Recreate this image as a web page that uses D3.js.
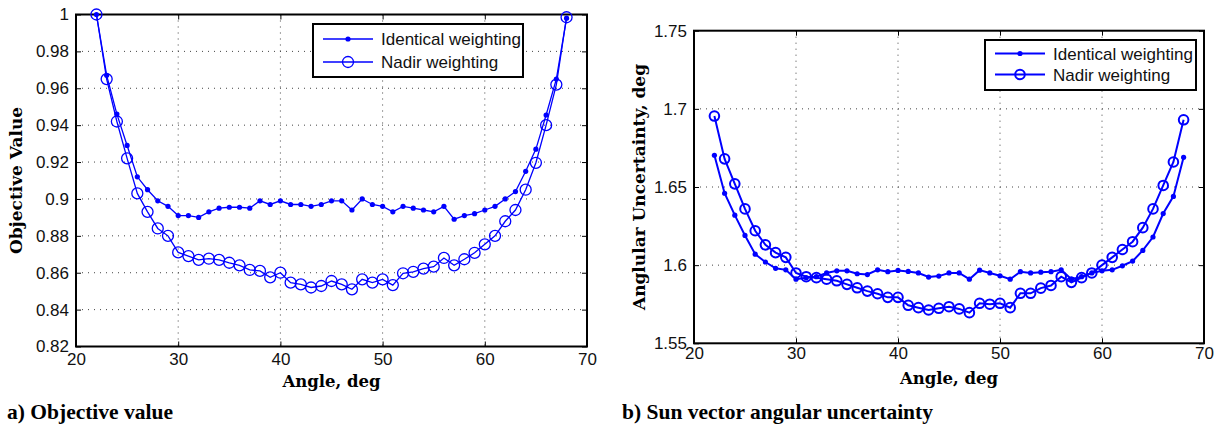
<!DOCTYPE html>
<html>
<head>
<meta charset="utf-8">
<script src="https://cdn.jsdelivr.net/npm/d3@7"></script>
<style>
  body { margin: 0; background: #fff; }
  svg { display: block; }
</style>
</head>
<body>
<div id="chart"></div>
<script>
// Data, angles 22..68 deg
const angles = d3.range(22, 69);

const objIdentical = [1.000, 0.967, 0.946, 0.929, 0.912, 0.905, 0.899, 0.896, 0.891,
  0.891, 0.890, 0.893, 0.895, 0.8955, 0.8955, 0.895, 0.899, 0.897, 0.899,
  0.897, 0.897, 0.896, 0.897, 0.899, 0.899, 0.894, 0.900, 0.897, 0.896,
  0.893, 0.896, 0.895, 0.894, 0.893, 0.896, 0.889, 0.891, 0.892, 0.894,
  0.896, 0.900, 0.904, 0.915, 0.927, 0.9455, 0.965, 0.998];

const objNadir = [1.000, 0.965, 0.942, 0.922, 0.903, 0.893, 0.884, 0.880, 0.871,
  0.869, 0.867, 0.8676, 0.867, 0.8654, 0.864, 0.8615, 0.861, 0.8575, 0.860,
  0.8546, 0.8537, 0.852, 0.8528, 0.8555, 0.8537, 0.851, 0.8564, 0.8546, 0.8564,
  0.8533, 0.8597, 0.8605, 0.8622, 0.8633, 0.868, 0.864, 0.8673, 0.8708, 0.8754,
  0.880, 0.8879, 0.894, 0.905, 0.9196, 0.940, 0.962, 0.9985];

const uncIdentical = [1.6703, 1.646, 1.632, 1.619, 1.607, 1.602, 1.598, 1.597, 1.591,
  1.592, 1.5926, 1.595, 1.5964, 1.5964, 1.5945, 1.594, 1.597, 1.5958, 1.5966,
  1.596, 1.595, 1.5924, 1.593, 1.595, 1.595, 1.591, 1.5968, 1.595, 1.5932,
  1.591, 1.5958, 1.595, 1.5955, 1.5958, 1.597, 1.591, 1.5926, 1.595, 1.5964,
  1.597, 1.5996, 1.6026, 1.6094, 1.618, 1.633, 1.644, 1.669];

const uncNadir = [1.6954, 1.668, 1.652, 1.636, 1.622, 1.613, 1.608, 1.605, 1.595,
  1.5926, 1.592, 1.591, 1.590, 1.5877, 1.5855, 1.5834, 1.5817, 1.5794, 1.5794,
  1.5743, 1.5728, 1.5713, 1.5724, 1.5734, 1.572, 1.5696, 1.5756, 1.575, 1.5756,
  1.5728, 1.582, 1.582, 1.5853, 1.587, 1.5926, 1.589, 1.592, 1.595, 1.600,
  1.605, 1.610, 1.615, 1.624, 1.636, 1.651, 1.666, 1.693];

const angleTicks = [20, 30, 40, 50, 60, 70];
const objTicks = [0.82, 0.84, 0.86, 0.88, 0.9, 0.92, 0.94, 0.96, 0.98, 1];
const uncTicks = [1.55, 1.6, 1.65, 1.7, 1.75];
const seriesNames = ["Identical weighting", "Nadir weighting"];

const width = 1220;
const height = 429;
const blue = "#0000ff";

const svg = d3.select("#chart")
  .append("svg")
  .attr("width", width)
  .attr("height", height);

// draws one MATLAB style panel
function drawPanel(p) {
  const x = d3.scaleLinear().domain([20, 70]).range([p.left, p.right]);
  const y = d3.scaleLinear().domain(p.yDomain).range([p.bottom, p.top]);
  const g = svg.append("g");

  // dotted grid
  g.selectAll(".vgrid")
    .data(angleTicks.slice(1, -1))
    .enter().append("line")
    .attr("x1", d => x(d)).attr("x2", d => x(d))
    .attr("y1", p.top).attr("y2", p.bottom)
    .attr("stroke", "#444").attr("stroke-width", 1)
    .attr("stroke-dasharray", "1,5");
  g.selectAll(".hgrid")
    .data(p.yTicks.slice(1, -1))
    .enter().append("line")
    .attr("x1", p.left).attr("x2", p.right)
    .attr("y1", d => y(d)).attr("y2", d => y(d))
    .attr("stroke", "#444").attr("stroke-width", 1)
    .attr("stroke-dasharray", "1,5");

  // axes with inward ticks on all sides
  const font = "'Liberation Sans', Arial, sans-serif";
  const bottomAx = g.append("g")
    .attr("transform", `translate(0,${p.bottom})`)
    .call(d3.axisBottom(x).tickValues(angleTicks).tickSizeInner(-5).tickSizeOuter(0).tickPadding(p.xPad));
  const leftAx = g.append("g")
    .attr("transform", `translate(${p.left},0)`)
    .call(d3.axisLeft(y).tickValues(p.yTicks).tickFormat(d3.format("~g")).tickSizeInner(-5).tickSizeOuter(0).tickPadding(p.yPad));
  g.append("g")
    .attr("transform", `translate(0,${p.top})`)
    .call(d3.axisTop(x).tickValues(angleTicks).tickSizeInner(-5).tickSizeOuter(0).tickFormat(""));
  g.append("g")
    .attr("transform", `translate(${p.right},0)`)
    .call(d3.axisRight(y).tickValues(p.yTicks).tickSizeInner(-5).tickSizeOuter(0).tickFormat(""));
  g.selectAll(".domain").remove();
  g.selectAll(".tick line").attr("stroke", "#000").attr("stroke-width", 1);
  [bottomAx, leftAx].forEach(a => a.selectAll("text")
    .attr("font-family", font).attr("font-size", "17px").attr("fill", "#111"));

  g.append("rect")
    .attr("x", p.left).attr("y", p.top)
    .attr("width", p.right - p.left).attr("height", p.bottom - p.top)
    .attr("fill", "none").attr("stroke", "#000").attr("stroke-width", 2);

  // series
  const line = d3.line().x((d, i) => x(angles[i])).y(d => y(d));
  g.append("path").datum(p.ident)
    .attr("d", line).attr("fill", "none").attr("stroke", blue).attr("stroke-width", p.lw);
  g.selectAll(".dot").data(p.ident).enter().append("circle")
    .attr("cx", (d, i) => x(angles[i])).attr("cy", d => y(d))
    .attr("r", p.dotR).attr("fill", blue);
  g.append("path").datum(p.nadir)
    .attr("d", line).attr("fill", "none").attr("stroke", blue).attr("stroke-width", p.lw);
  g.selectAll(".ring").data(p.nadir).enter().append("circle")
    .attr("cx", (d, i) => x(angles[i])).attr("cy", d => y(d))
    .attr("r", p.ringR).attr("fill", "none").attr("stroke", blue).attr("stroke-width", p.lw);

  // legend
  const L = p.legend;
  g.append("rect")
    .attr("x", L.x).attr("y", L.y).attr("width", L.w).attr("height", L.h)
    .attr("fill", "#fff").attr("stroke", "#000").attr("stroke-width", 2);
  seriesNames.forEach((name, i) => {
    const ly = L.y + L.rows[i];
    g.append("line")
      .attr("x1", L.x + 10).attr("x2", L.x + 60)
      .attr("y1", ly).attr("y2", ly)
      .attr("stroke", blue).attr("stroke-width", p.lw);
    const mk = g.append("circle").attr("cx", L.x + 35).attr("cy", ly);
    if (i === 0) mk.attr("r", p.dotR).attr("fill", blue);
    else mk.attr("r", p.ringR).attr("fill", "none").attr("stroke", blue).attr("stroke-width", p.lw);
    g.append("text")
      .attr("x", L.x + 68).attr("y", ly + 6)
      .attr("font-family", font).attr("font-size", "17px").attr("fill", "#111")
      .text(name);
  });

  // axis labels
  const serif = "'DejaVu Serif', serif";
  g.append("text")
    .attr("x", (p.left + p.right) / 2).attr("y", p.xLabelY)
    .attr("text-anchor", "middle")
    .attr("font-family", serif).attr("font-weight", "bold").attr("font-size", "16.5px")
    .text("Angle, deg");
  g.append("text")
    .attr("transform", `translate(${p.yLabelX},${(p.top + p.bottom) / 2}) rotate(-90)`)
    .attr("text-anchor", "middle")
    .attr("font-family", serif).attr("font-weight", "bold").attr("font-size", "17px")
    .text(p.yLabel);

  g.append("text")
    .attr("x", p.capX).attr("y", 419)
    .attr("font-family", "'Liberation Serif', 'Times New Roman', serif")
    .attr("font-weight", "bold").attr("font-size", "21.5px")
    .text(p.caption);
}

drawPanel({
  left: 76, right: 587, top: 14.5, bottom: 346.5,
  yDomain: [0.82, 1], yTicks: objTicks,
  ident: objIdentical, nadir: objNadir,
  lw: 1.3, dotR: 2.6, ringR: 5.5,
  xPad: 6, yPad: 7,
  legend: { x: 313, y: 24, w: 210, h: 53, rows: [15, 38] },
  xLabelY: 387, yLabelX: 22,
  yLabel: "Objective Value",
  caption: "a) Objective value", capX: 7
});

drawPanel({
  left: 694, right: 1204, top: 30.7, bottom: 343.3,
  yDomain: [1.55, 1.75], yTicks: uncTicks,
  ident: uncIdentical, nadir: uncNadir,
  lw: 2, dotR: 2.6, ringR: 4.8,
  xPad: 4, yPad: 7,
  legend: { x: 985, y: 40, w: 211, h: 50, rows: [13.5, 34.5] },
  xLabelY: 384, yLabelX: 645,
  yLabel: "Anglular Uncertainty, deg",
  caption: "b) Sun vector angular uncertainty", capX: 622
});
</script>
</body>
</html>
